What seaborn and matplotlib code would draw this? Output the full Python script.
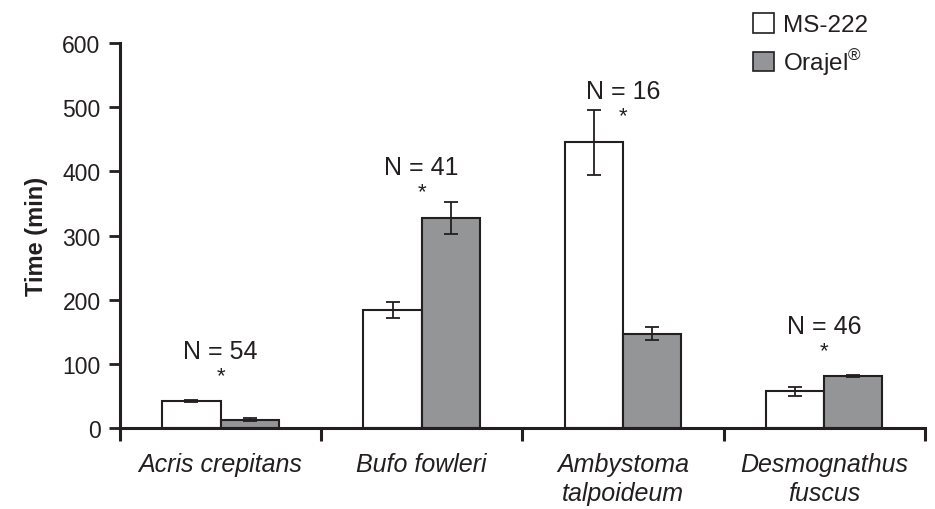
import pandas as pd
import seaborn as sns
import numpy as np
import matplotlib.pyplot as plt
from matplotlib.patches import Patch

# values (time in minutes, mean +/- SE)
species = ['Acris crepitans', 'Bufo fowleri', 'Ambystoma\ntalpoideum', 'Desmognathus\nfuscus']
treatments = ['MS-222', 'Orajel']
ms222 = [42, 184, 445, 57]
ms222_err = [2, 13, 51, 7]
orajel = [13, 327, 147, 81]
orajel_err = [2, 25, 10, 2]
n_labels = ['N = 54', 'N = 41', 'N = 16', 'N = 46']
n_label_y = [120, 407, 525, 159]

sns.set_style('ticks')
plt.rcParams['font.family'] = ['Liberation Sans', 'DejaVu Sans']
plt.rcParams['mathtext.fontset'] = 'custom'
plt.rcParams['mathtext.rm'] = 'Liberation Sans'

df = pd.DataFrame({
    'species': species * 2,
    'time': ms222 + orajel,
    'err': ms222_err + orajel_err,
    'treatment': [treatments[0]] * 4 + [treatments[1]] * 4,
})

gray = '#939598'
edge = '#231f20'

fig = plt.figure(figsize=(9.35, 5.10), dpi=100)
ax = fig.add_axes([0.1283, 0.1588, 0.8607, 0.7549])

sns.barplot(data=df, x='species', y='time', hue='treatment',
            palette={'MS-222': 'white', 'Orajel': gray},
            edgecolor=edge, linewidth=1.5, width=0.58,
            errorbar=None, legend=False, ax=ax)

# error bars on top of each bar
errs = [ms222_err, orajel_err]
for cont, e in zip(ax.containers, errs):
    for bar, err in zip(cont, e):
        cx = bar.get_x() + bar.get_width() / 2
        ax.errorbar(cx, bar.get_height(), yerr=err, fmt='none',
                    ecolor=edge, elinewidth=1.3, capsize=5, capthick=1.3)

# N labels and asterisks
for i, (lab, y) in enumerate(zip(n_labels, n_label_y)):
    ax.text(i, y, lab, ha='center', va='center', fontsize=18, color=edge)
    ax.text(i, y - 38, '*', ha='center', va='center', fontsize=16, color=edge)

ax.set_xlim(-0.5, 3.5)
ax.set_ylim(0, 600)
ax.set_yticks(np.arange(0, 601, 100))
ax.set_xticks([-0.5, 0.5, 1.5, 2.5, 3.5])
ax.set_xticklabels([])
ax.set_xticks(range(4), minor=True)
ax.set_xticklabels(species, minor=True, style='italic', fontsize=18, color=edge,
                   linespacing=1.3)
ax.tick_params(axis='x', which='minor', length=0, pad=17)
ax.tick_params(axis='x', which='major', length=9, width=2.2, color=edge)
ax.tick_params(axis='y', length=8, width=2, color=edge, labelsize=16.5, labelcolor=edge, pad=6)
ax.set_xlabel('')
ax.set_ylabel('Time (min)', fontsize=17, fontweight='bold', color=edge, labelpad=10)

sns.despine(ax=ax)
for s in ['left', 'bottom']:
    ax.spines[s].set_linewidth(2.2)
    ax.spines[s].set_color(edge)

handles = [Patch(facecolor='white', edgecolor=edge, linewidth=1.2),
           Patch(facecolor=gray, edgecolor=edge, linewidth=1.2)]
fig.legend(handles, ['MS-222', 'Orajel$^{\\mathrm{®}}$'], loc='upper left',
           bbox_to_anchor=(0.782, 1.015), frameon=False, fontsize=17.5,
           handlelength=0.85, handleheight=0.85, handletextpad=0.4,
           labelspacing=0.4, labelcolor=edge)

fig.savefig('out.png', dpi=100)
